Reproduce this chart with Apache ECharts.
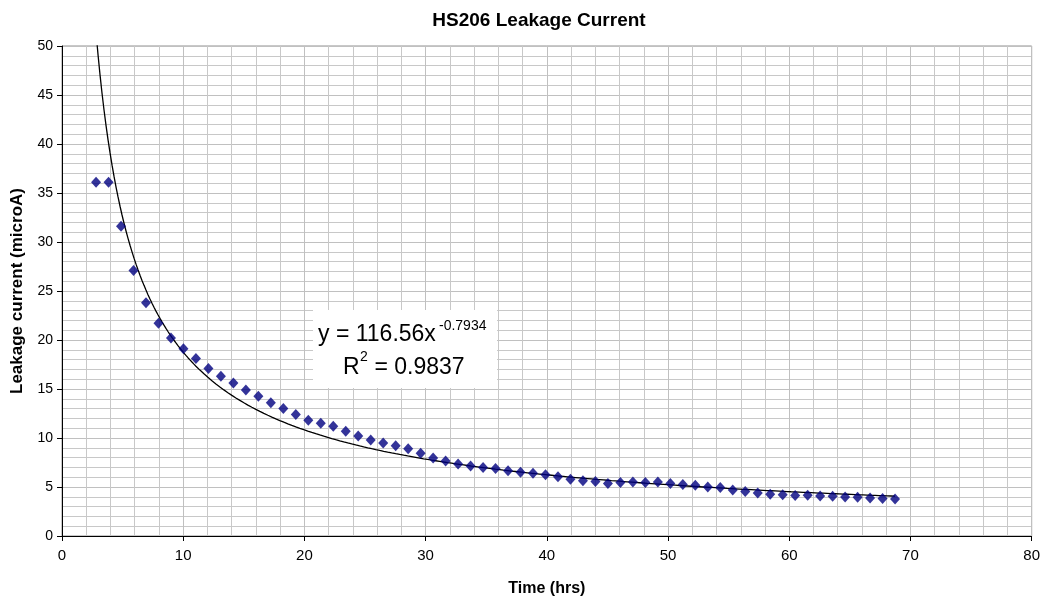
<!DOCTYPE html>
<html>
<head>
<meta charset="utf-8">
<script src="https://cdn.jsdelivr.net/npm/echarts@6/dist/echarts.min.js"></script>
<style>
html,body{margin:0;padding:0;background:#fff;}
#chart{width:1043px;height:603px;}
</style>
</head>
<body>
<div id="chart"></div>
<script>
// Measurement times (hrs)
const timeHrs = [2.81,3.84,4.87,5.90,6.93,7.96,8.99,10.02,11.05,12.08,13.11,14.14,15.17,16.20,17.23,18.26,19.29,20.32,21.35,22.38,23.41,24.44,25.47,26.50,27.53,28.56,29.59,30.62,31.65,32.68,33.71,34.74,35.77,36.80,37.83,38.86,39.89,40.92,41.95,42.98,44.01,45.04,46.07,47.10,48.13,49.16,50.19,51.22,52.25,53.28,54.31,55.34,56.37,57.40,58.43,59.46,60.49,61.52,62.55,63.58,64.61,65.64,66.67,67.70,68.73];
// Leakage current (microA)
const leakage = [36.1,36.1,31.6,27.1,23.8,21.7,20.2,19.1,18.1,17.1,16.3,15.6,14.9,14.25,13.6,13.0,12.4,11.8,11.5,11.2,10.7,10.2,9.8,9.5,9.2,8.9,8.45,7.95,7.65,7.35,7.15,7.0,6.9,6.65,6.5,6.4,6.25,6.05,5.8,5.65,5.55,5.35,5.45,5.5,5.45,5.5,5.35,5.25,5.18,5.0,4.95,4.7,4.55,4.4,4.25,4.22,4.13,4.15,4.08,4.05,3.98,3.95,3.88,3.82,3.78];
// Power trendline shown on the chart: y = 116.56 x^-0.7934
const trendCoef = 116.56;
const trendExp = -0.7934;
const trendR2 = '0.9837';
// Tick labels
const xTicks = [0,10,20,30,40,50,60,70,80];
const yTicks = [0,5,10,15,20,25,30,35,40,45,50];

const FONT = 'Liberation Sans, Arial, sans-serif';

// trendline sampled over the data range
const trend = [];
const x0 = timeHrs[0], x1 = timeHrs[timeHrs.length-1];
for (let k = 0; k <= 400; k++) {
  const x = x0 + (x1 - x0) * k / 400;
  trend.push([x, trendCoef * Math.pow(x, trendExp)]);
}
const points = timeHrs.map((t, i) => [t, leakage[i]]);

const chart = echarts.init(document.getElementById('chart'), null, {renderer: 'canvas'});
const option = {
  animation: false,
  backgroundColor: '#ffffff',
  title: {
    text: 'HS206 Leakage Current',
    left: 534,
    top: 6,
    textAlign: 'center',
    textStyle: {fontFamily: FONT, fontSize: 19, fontWeight: 'bold', color: '#000'}
  },
  grid: {left: 62, right: 11, top: 46, bottom: 67, show: true, borderColor: '#909090', borderWidth: 1, backgroundColor: 'transparent'},
  xAxis: {
    type: 'value', min: xTicks[0], max: xTicks[xTicks.length-1], interval: 10,
    name: 'Time (hrs)', nameLocation: 'middle', nameGap: 45,
    nameTextStyle: {fontFamily: FONT, fontSize: 16, fontWeight: 'bold', color: '#000'},
    axisLine: {show: true, onZero: false, lineStyle: {color: '#000', width: 1}},
    axisTick: {show: true, inside: false, length: 5, lineStyle: {color: '#000'}},
    axisLabel: {fontFamily: FONT, fontSize: 15, color: '#000', margin: 12},
    splitLine: {show: true, lineStyle: {color: '#c0c0c0', width: 1}},
    minorTick: {show: false, splitNumber: 5},
    minorSplitLine: {show: true, lineStyle: {color: '#c8c8c8', width: 1}}
  },
  yAxis: {
    type: 'value', min: yTicks[0], max: yTicks[yTicks.length-1], interval: 5,
    name: 'Leakage current (microA)', nameLocation: 'middle', nameGap: 36, nameRotate: 90,
    nameTextStyle: {fontFamily: FONT, fontSize: 17, fontWeight: 'bold', color: '#000'},
    axisLine: {show: true, onZero: false, lineStyle: {color: '#000', width: 1}},
    axisTick: {show: true, inside: false, length: 5, lineStyle: {color: '#000'}},
    axisLabel: {fontFamily: FONT, fontSize: 14, color: '#000', margin: 9},
    splitLine: {show: true, lineStyle: {color: '#c0c0c0', width: 1}},
    minorTick: {show: false, splitNumber: 5},
    minorSplitLine: {show: true, lineStyle: {color: '#c8c8c8', width: 1}}
  },
  series: [
    {
      type: 'line', data: trend, showSymbol: false, symbol: 'none', clip: true,
      lineStyle: {color: '#000', width: 1.3}, z: 2, silent: true
    },
    {
      type: 'scatter', data: points, symbol: 'diamond', symbolSize: [10, 11],
      itemStyle: {color: '#000080'}, z: 3
    }
  ],
  graphic: [
    {type: 'rect', left: 313, top: 310, shape: {width: 184, height: 78}, style: {fill: '#ffffff'}, z: 100},
    {type: 'text', x: 318, y: 335, z: 101, style: {text: 'y = ' + trendCoef.toFixed(2) + 'x', font: '23px ' + FONT, fill: '#000', verticalAlign: 'middle', align: 'left'}},
    {type: 'text', x: 439, y: 326, z: 101, style: {text: trendExp.toFixed(4), font: '14px ' + FONT, fill: '#000', verticalAlign: 'middle', align: 'left'}},
    {type: 'text', x: 343, y: 368, z: 101, style: {text: 'R', font: '23px ' + FONT, fill: '#000', verticalAlign: 'middle', align: 'left'}},
    {type: 'text', x: 360, y: 357, z: 101, style: {text: '2', font: '14px ' + FONT, fill: '#000', verticalAlign: 'middle', align: 'left'}},
    {type: 'text', x: 368, y: 368, z: 101, style: {text: ' = ' + trendR2, font: '23px ' + FONT, fill: '#000', verticalAlign: 'middle', align: 'left'}}
  ]
};
chart.setOption(option);
</script>
</body>
</html>
